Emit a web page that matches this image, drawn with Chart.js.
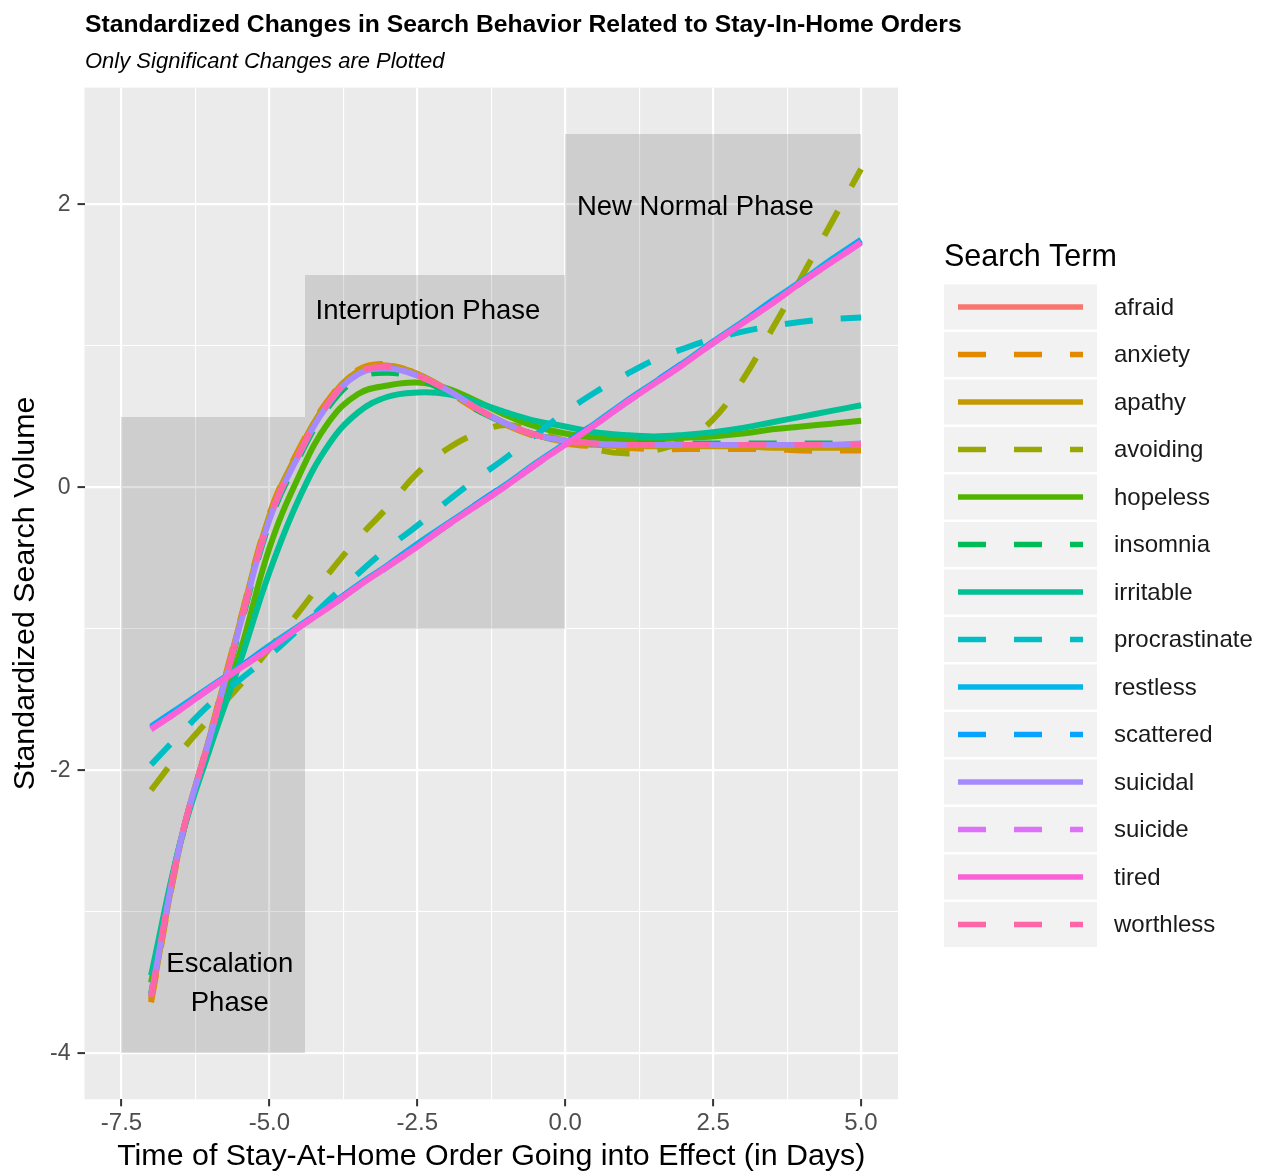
<!DOCTYPE html>
<html><head><meta charset="utf-8">
<script src="https://cdn.jsdelivr.net/npm/chart.js@4.4.1/dist/chart.umd.min.js"></script>
<style>html,body{margin:0;padding:0;background:#fff;}canvas{display:block;}</style>
</head><body>
<canvas id="c" width="1262" height="1172" style="width:1262px;height:1172px"></canvas>
<script>
// ---------- data ----------
const days = [-7,-6.5,-6,-5.5,-5,-4.5,-4,-3.5,-3,-2.5,-2,-1.5,-1,-0.5,0,0.5,1,1.5,2,2.5,3,3.5,4,4.5,5];

const afraid        = [-3.60,-2.50,-1.75,-0.97,-0.21,0.25,0.61,0.82,0.86,0.80,0.69,0.56,0.45,0.37,0.33,0.31,0.30,0.30,0.30,0.30,0.30,0.30,0.29,0.29,0.29];
const anxiety       = [-3.64,-2.52,-1.74,-0.95,-0.19,0.27,0.62,0.83,0.87,0.80,0.68,0.55,0.44,0.36,0.31,0.29,0.28,0.27,0.27,0.27,0.27,0.27,0.26,0.26,0.26];
const apathy        = [-3.62,-2.51,-1.75,-0.96,-0.20,0.26,0.61,0.82,0.86,0.80,0.69,0.56,0.45,0.37,0.32,0.30,0.29,0.29,0.29,0.29,0.29,0.28,0.28,0.28,0.28];
const avoiding      = [-2.14,-1.87,-1.63,-1.40,-1.14,-0.88,-0.61,-0.36,-0.14,0.10,0.27,0.38,0.44,0.39,0.33,0.27,0.24,0.26,0.33,0.48,0.76,1.12,1.49,1.87,2.25];
const hopeless      = [-3.50,-2.50,-1.80,-1.17,-0.43,0.08,0.46,0.66,0.72,0.74,0.70,0.61,0.51,0.43,0.38,0.35,0.34,0.34,0.35,0.36,0.38,0.41,0.43,0.45,0.47];
const insomnia      = [-3.58,-2.50,-1.77,-1.00,-0.25,0.21,0.57,0.77,0.81,0.77,0.67,0.55,0.45,0.37,0.33,0.31,0.31,0.31,0.31,0.31,0.31,0.31,0.31,0.31,0.31];
const irritable     = [-3.45,-2.50,-1.84,-1.24,-0.60,-0.08,0.30,0.53,0.64,0.67,0.66,0.60,0.53,0.47,0.43,0.39,0.37,0.36,0.37,0.39,0.42,0.46,0.50,0.54,0.58];
const procrastinate = [-1.96,-1.74,-1.53,-1.36,-1.19,-1.00,-0.80,-0.61,-0.43,-0.27,-0.10,0.06,0.21,0.37,0.53,0.67,0.79,0.90,0.98,1.05,1.10,1.14,1.17,1.19,1.20];
const restless      = [-1.69,-1.55,-1.41,-1.27,-1.12,-0.98,-0.84,-0.69,-0.55,-0.40,-0.26,-0.12,0.02,0.17,0.31,0.45,0.60,0.74,0.88,1.03,1.17,1.32,1.46,1.61,1.75];
const scattered     = [-1.70,-1.56,-1.42,-1.27,-1.13,-0.99,-0.84,-0.70,-0.56,-0.41,-0.27,-0.12,0.02,0.16,0.31,0.45,0.59,0.74,0.88,1.02,1.17,1.31,1.45,1.60,1.74];
const suicidal      = [-3.59,-2.50,-1.76,-0.98,-0.23,0.23,0.59,0.80,0.84,0.79,0.69,0.56,0.45,0.37,0.33,0.31,0.30,0.30,0.30,0.30,0.30,0.30,0.30,0.30,0.31];
const suicide       = [-1.71,-1.57,-1.42,-1.28,-1.14,-0.99,-0.85,-0.70,-0.56,-0.42,-0.27,-0.13,0.01,0.16,0.30,0.44,0.59,0.73,0.87,1.02,1.16,1.30,1.45,1.59,1.73];
const tired         = [-1.71,-1.57,-1.42,-1.28,-1.14,-0.99,-0.85,-0.70,-0.56,-0.42,-0.27,-0.13,0.01,0.16,0.30,0.44,0.59,0.73,0.87,1.02,1.16,1.30,1.45,1.59,1.73];
const worthless     = [-3.60,-2.50,-1.76,-0.98,-0.22,0.24,0.60,0.81,0.85,0.79,0.69,0.56,0.45,0.37,0.33,0.31,0.30,0.30,0.30,0.30,0.30,0.30,0.30,0.30,0.30];

const terms = ['afraid','anxiety','apathy','avoiding','hopeless','insomnia','irritable','procrastinate','restless','scattered','suicidal','suicide','tired','worthless'];
const series = [afraid,anxiety,apathy,avoiding,hopeless,insomnia,irritable,procrastinate,restless,scattered,suicidal,suicide,tired,worthless];

const xMajorTicks = [-7.5,-5.0,-2.5,0.0,2.5,5.0];
const xMinorTicks = [-6.25,-3.75,-1.25,1.25,3.75];
const yMajorTicks = [-4,-2,0,2];
const yMinorTicks = [-3,-1,1];

const phaseNames = ['Escalation\nPhase','Interruption Phase','New Normal Phase'];
const phaseStart = [-7.5,-4.4,0];
const phaseEnd   = [-4.4,0,5];
const phaseLow   = [-4,-1,0];
const phaseHigh  = [0.5,1.5,2.5];
const phaseLabelX = [-5.67,-2.32,2.2];
const phaseLabelY = [-3.51,1.24,1.98];

const titleText = 'Standardized Changes in Search Behavior Related to Stay-In-Home Orders';
const subtitleText = 'Only Significant Changes are Plotted';
const xTitle = 'Time of Stay-At-Home Order Going into Effect (in Days)';
const yTitle = 'Standardized Search Volume';
const legendTitle = 'Search Term';

// ---------- styles ----------
const colors = ['#F8766D','#E38900','#C49A00','#99A800','#53B400','#00BC56','#00C094','#00BFC4','#00B6EB','#06A4FF','#A58AFF','#DF70F8','#FB61D7','#FF66A8'];
const lineTypes = ['solid','dashed','solid','dashed','solid','dashed','solid','dashed','solid','dashed','solid','dashed','solid','dashed'];
const FONT = '"Liberation Sans", Arial, Helvetica, sans-serif';
const DASH = [28, 28];
const LW = 6;

const datasets = terms.map((t, i) => ({
  label: t,
  data: days.map((d, j) => ({x: d, y: series[i][j]})),
  borderColor: colors[i],
  backgroundColor: colors[i],
  borderWidth: LW,
  borderDash: lineTypes[i] === 'dashed' ? DASH : [],
  borderCapStyle: 'butt',
  borderJoinStyle: 'round',
  pointRadius: 0,
  pointHoverRadius: 0,
  fill: false,
  tension: 0.4,
  order: terms.length - i
}));

const isMajor = (v, arr) => arr.some(m => Math.abs(m - v) < 1e-9);

const decor = {
  id: 'decor',
  beforeDraw(chart) {
    const {ctx, chartArea: a} = chart;
    ctx.save();
    ctx.fillStyle = '#ffffff';
    ctx.fillRect(0, 0, chart.width, chart.height);
    ctx.fillStyle = '#ebebeb';
    ctx.fillRect(a.left, a.top, a.right - a.left, a.bottom - a.top);
    ctx.restore();
  },
  beforeDatasetsDraw(chart) {
    const {ctx, chartArea: a, scales: {x, y}} = chart;
    ctx.save();
    ctx.beginPath();
    ctx.rect(a.left, a.top, a.right - a.left, a.bottom - a.top);
    ctx.clip();
    ctx.fillStyle = 'rgba(0,0,0,0.12)';
    for (let i = 0; i < phaseNames.length; i++) {
      const x0 = Math.round(x.getPixelForValue(phaseStart[i]));
      const x1 = Math.round(x.getPixelForValue(phaseEnd[i]));
      const y0 = Math.round(y.getPixelForValue(phaseHigh[i]));
      const y1 = Math.round(y.getPixelForValue(phaseLow[i]));
      ctx.fillRect(x0, y0, x1 - x0, y1 - y0);
    }
    ctx.restore();
  },
  afterDatasetsDraw(chart) {
    const {ctx, scales: {x, y}} = chart;
    ctx.save();
    ctx.fillStyle = '#000000';
    ctx.font = '27.5px ' + FONT;
    ctx.textAlign = 'center';
    ctx.textBaseline = 'middle';
    for (let i = 0; i < phaseNames.length; i++) {
      const lines = phaseNames[i].split('\n');
      const cx = x.getPixelForValue(phaseLabelX[i]);
      const cy = y.getPixelForValue(phaseLabelY[i]);
      const lh = 39;
      lines.forEach((ln, k) => {
        ctx.fillText(ln, cx, cy + (k - (lines.length - 1) / 2) * lh);
      });
    }
    ctx.restore();
  },
  afterDraw(chart) {
    const {ctx} = chart;
    ctx.save();
    // title + subtitle
    ctx.fillStyle = '#000000';
    ctx.textAlign = 'left';
    ctx.textBaseline = 'alphabetic';
    ctx.font = 'bold 24.7px ' + FONT;
    ctx.fillText(titleText, 85, 32);
    ctx.font = 'italic 22px ' + FONT;
    ctx.fillText(subtitleText, 85, 68);
    // legend
    const lx = 944, keyW = 153, keyH = 45, rowH = 47.5, firstCenter = 307;
    ctx.font = '30.5px ' + FONT;
    ctx.fillText(legendTitle, lx, 266);
    ctx.font = '24px ' + FONT;
    ctx.textBaseline = 'middle';
    chart.data.datasets.forEach((ds, i) => {
      const cy = firstCenter + i * rowH;
      ctx.fillStyle = '#f2f2f2';
      ctx.fillRect(lx, cy - keyH / 2, keyW, keyH);
      ctx.beginPath();
      ctx.strokeStyle = ds.borderColor;
      ctx.lineWidth = 5.5;
      ctx.lineCap = 'butt';
      ctx.setLineDash(ds.borderDash || []);
      ctx.moveTo(lx + 14, cy);
      ctx.lineTo(lx + 139, cy);
      ctx.stroke();
      ctx.setLineDash([]);
      ctx.fillStyle = '#1a1a1a';
      ctx.fillText(ds.label, 1114, cy + 1);
    });
    ctx.restore();
  }
};

Chart.defaults.font.family = FONT;

new Chart(document.getElementById('c'), {
  type: 'line',
  data: {datasets},
  plugins: [decor],
  options: {
    responsive: false,
    devicePixelRatio: 1,
    animation: false,
    events: [],
    layout: {padding: {top: 87.6, right: 364, bottom: 0, left: 0}},
    plugins: {legend: {display: false}, title: {display: false}, tooltip: {enabled: false}},
    scales: {
      x: {
        type: 'linear',
        min: -8.125, max: 5.625,
        afterBuildTicks(axis) { axis.ticks = [...xMajorTicks, ...xMinorTicks].sort((a, b) => a - b).map(v => ({value: v})); },
        afterFit(scale) { scale.height = 72.7; },
        border: {display: false},
        grid: {
          color: '#ffffff',
          lineWidth: c => isMajor(c.tick.value, xMajorTicks) ? 2.2 : 1.1,
          tickColor: c => isMajor(c.tick.value, xMajorTicks) ? '#333333' : 'rgba(0,0,0,0)',
          tickWidth: 2,
          tickLength: 7,
          drawTicks: true
        },
        ticks: {
          autoSkip: false, maxRotation: 0, minRotation: 0,
          padding: 3,
          color: '#4d4d4d',
          font: {size: 24, family: FONT},
          callback: v => isMajor(v, xMajorTicks) ? v.toFixed(1) : ''
        },
        title: {display: true, text: xTitle, color: '#000000', font: {size: 30.4, family: FONT, lineHeight: 1.0}, padding: {top: 0, bottom: 0}}
      },
      y: {
        type: 'linear',
        min: -4.325, max: 2.825,
        afterBuildTicks(axis) { axis.ticks = [...yMajorTicks, ...yMinorTicks].sort((a, b) => a - b).map(v => ({value: v})); },
        afterFit(scale) { scale.width = 84.5; },
        border: {display: false},
        grid: {
          color: '#ffffff',
          lineWidth: c => isMajor(c.tick.value, yMajorTicks) ? 2.2 : 1.1,
          tickColor: c => isMajor(c.tick.value, yMajorTicks) ? '#333333' : 'rgba(0,0,0,0)',
          tickWidth: 2,
          tickLength: 7,
          drawTicks: true
        },
        ticks: {
          autoSkip: false,
          padding: 7,
          color: '#4d4d4d',
          font: {size: 23, family: FONT},
          callback: v => isMajor(v, yMajorTicks) ? String(v) : ''
        },
        title: {display: true, text: yTitle, color: '#000000', font: {size: 30.4, family: FONT, lineHeight: 1.2}, padding: {top: 7, bottom: 0}}
      }
    }
  }
});
</script>
</body></html>
